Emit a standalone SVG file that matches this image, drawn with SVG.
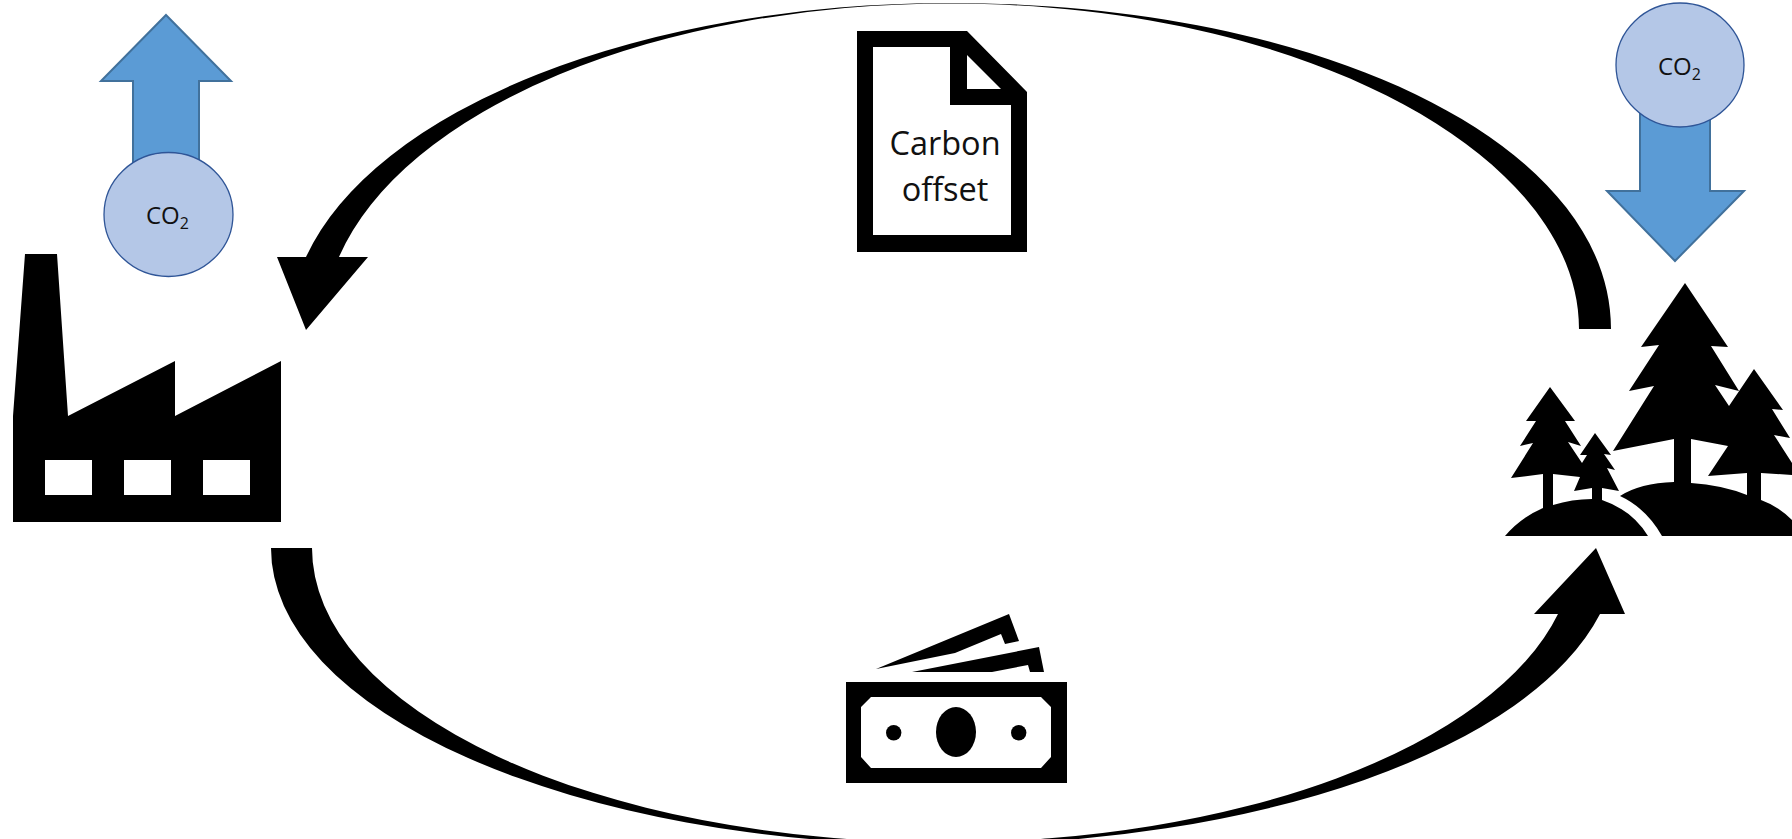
<svg xmlns="http://www.w3.org/2000/svg" width="1792" height="839" viewBox="0 0 1792 839">
<style>
.k{fill:#000}
.ar{fill:#5B9BD5;stroke:#41719C;stroke-width:2}
.c{fill:#B4C7E7;stroke:#2F5597;stroke-width:1.3}
text{font-family:"Open Sans","Noto Sans",sans-serif;fill:#111}
.co{font-size:24px}
.sub{font-size:16px}
.t{font-size:32.5px;text-anchor:middle}
</style>
<rect width="1792" height="839" fill="#fff"/>
<g id="connectors">
<path class="k" d="M1611,329 C1611,144 1323,3 950,3 A660,326 0 0 0 306,257 L277,257 L306,330 L368,257 L339,257 A626,325.5 0 0 1 950,3.5 C1298,3.5 1579,152 1579,329 Z"/>
<path class="k" d="M271,548 A673,297 0 0 0 944,845 A673,297 0 0 0 1600,614 L1625,614 L1596,548 L1534,614 L1558,614 A630,294.5 0 0 1 944,842.5 A632,294.5 0 0 1 312,548 Z"/>
</g>
<g id="factory-arrow"><path class="ar" d="M166,15 L231,81 H199 V170 H133 V81 H101 Z"/></g>
<g id="factory-co2"><ellipse class="c" cx="168.5" cy="214.5" rx="64.5" ry="62"/><text class="co" x="146" y="224">CO<tspan class="sub" dy="5">2</tspan></text></g>
<g id="factory"><path class="k" fill-rule="evenodd" d="M25,254 H57 L68,416 L175,361 V416 L281,361 V522 H13 V416 Z M45,460 V495 H92 V460 Z M124,460 V495 H171 V460 Z M203,460 V495 H250 V460 Z"/></g>
<g id="forest-arrow"><path class="ar" d="M1640,100 H1710 V191 H1744 L1675,261 L1607,191 H1640 Z"/></g>
<g id="forest-co2"><ellipse class="c" cx="1680" cy="65" rx="64" ry="62"/><text class="co" x="1658" y="75">CO<tspan class="sub" dy="5">2</tspan></text></g>
<g id="forest">
<path class="k" d="M1685,283 L1728,347 L1711,346 L1739,391 L1715,385 L1729,406 L1754,369 L1783,410 L1772,409 L1790,438 L1774,435 L1792,463 V475 L1761,473 V500 Q1778,506 1792,520 V536 H1662 Q1646,508 1620,496 Q1640,483 1674,482 V439 L1613,451 L1654,386 L1629,391 L1659,345 L1641,347 Z M1691,439 V483 Q1722,485 1747,495 V473 L1708,476 L1728,446 Z"/>
<path class="k" fill-rule="evenodd" d="M1550,387 L1575,421 L1565,421 L1581,446 L1568,442 L1582,463 L1587,455 L1580,455 L1595,433 L1611,455 L1604,454 L1615,470 L1607,468 L1619,491 L1602,488 V500 Q1632,510 1648,536 H1505 Q1520,518 1543,508 V474 L1511,478 L1533,443 L1520,446 L1536,421 L1526,421 Z M1553,474 V505 Q1572,499 1592,499 V488 L1574,491 L1580,477 Z"/>
</g>
<g id="document"><path class="k" fill-rule="evenodd" d="M857,31 H967 L1027,92 V252 H857 Z M873,47 V235 H1011 V105 H950 V47 Z M967,55 V89 H1001 Z"/><text class="t" x="945" y="155">Carbon</text><text class="t" x="945" y="201">offset</text></g>
<g id="money"><path class="k" fill-rule="evenodd" d="M846,682 H1067 V783 H846 Z M871,697 L861,707 V757 L871,768 H1041 L1051,757 V707 L1041,697 Z"/>
<ellipse class="k" cx="956" cy="732" rx="20" ry="25"/><circle class="k" cx="893.7" cy="732.7" r="7.7"/><circle class="k" cx="1018.7" cy="732.7" r="7.7"/>
<path class="k" d="M876,669 L1009,614 L1019,641 L1005,644 L1001,634 L955,653 Z"/>
<path class="k" d="M912,672 L1039,647 L1044,672 H1030 L1028,665 L992,672 Z"/></g>
</svg>
